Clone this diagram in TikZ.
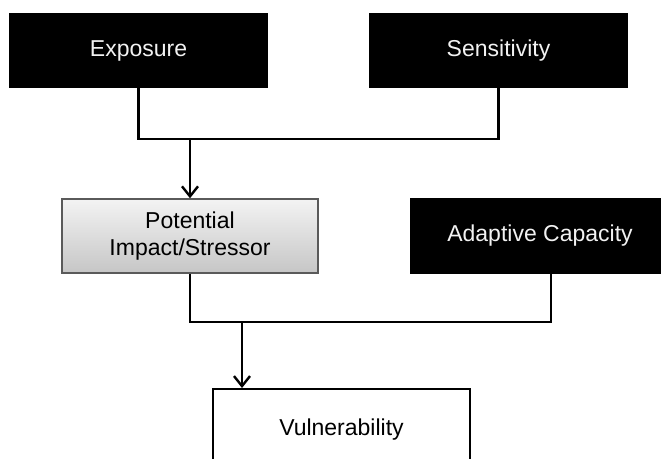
\documentclass[tikz,border=0pt]{standalone}
\usepackage{fontspec}
\setmainfont{Liberation Sans}
\usetikzlibrary{arrows.meta}
\definecolor{boxedge}{HTML}{5A5A5A}
\definecolor{shadetop}{HTML}{F3F3F3}
\definecolor{shadebot}{HTML}{C6C6C6}
\definecolor{labelwhite}{HTML}{F2F2F2}
\tikzset{
  base/.style={rectangle, inner sep=0pt, align=center,
    font=\fontsize{23}{27}\selectfont},
  darkbox/.style={base, fill=black, text=labelwhite},
  shadebox/.style={base, draw=boxedge, line width=1.5pt,
    top color=shadetop, bottom color=shadebot},
  plainbox/.style={base, draw=black, line width=2pt, fill=white},
  link/.style={draw=black, line width=2.4pt},
  arrowlink/.style={link, -{Straight Barb[length=10pt,width=16pt,line width=2.4pt]}}
}
\begin{document}
\begin{tikzpicture}[x=1pt,y=-1pt]
  \clip (0,0) rectangle (661,458);
  \fill[white] (0,0) rectangle (661,458);

  % top row
  \node[darkbox, minimum width=259pt, minimum height=75pt] (exp) at (138.5,50.5) {Exposure};
  \node[darkbox, minimum width=259pt, minimum height=75pt] (sens) at (498.5,50.5) {Sensitivity};

  % middle row
  \node[shadebox, minimum width=256pt, minimum height=74pt] (pot) at (190,236) {Potential\\Impact/Stressor};
  \node[darkbox, minimum width=260pt, minimum height=76pt] (adapt) at (540,236) {Adaptive Capacity};

  % result
  \node[plainbox, minimum width=257pt, minimum height=82pt] (vul) at (341.5,430) {Vulnerability};

  % junctions of the joining lines
  \coordinate (j1) at (190,139);
  \coordinate (j2) at (242,322);
  \coordinate (j3) at (551,322);

  \draw[link, line join=miter] (exp.south) |- (j1) -| (sens.south);
  \draw[arrowlink] (j1) -- (pot.north);

  \draw[link, line join=miter] (pot.south) |- (j3) -- (j3 |- adapt.south);
  \draw[arrowlink] (j2) -- (j2 |- vul.north);
\end{tikzpicture}
\end{document}
